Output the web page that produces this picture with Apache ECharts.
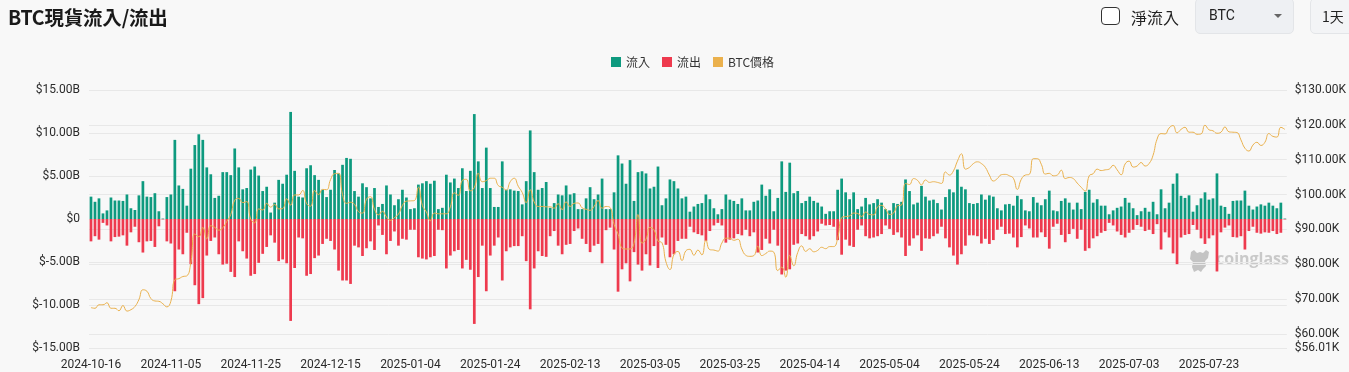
<!DOCTYPE html>
<html>
<head>
<meta charset="utf-8">
<script src="https://cdn.jsdelivr.net/npm/echarts@6/dist/echarts.min.js"></script>
<style>
  html, body { margin:0; padding:0; background:#f8f8f8; width:1349px; height:372px; overflow:hidden; font-family: Roboto, "Noto Sans CJK TC", sans-serif; }
  #chart { position:absolute; left:0; top:0; width:1349px; height:372px; }
  .title { position:absolute; left:8px; top:2px; font-size:19.5px; font-weight:bold; color:#1a1a1a; font-family: "Noto Sans CJK TC", sans-serif; letter-spacing:-0.2px; }
  .chk { position:absolute; left:1101px; top:7px; width:17px; height:16px; border:1.6px solid #333; border-radius:4px; background:#fff; }
  .chklbl { position:absolute; left:1131px; top:5px; font-size:16px; color:#222; font-family: "Noto Sans CJK TC", sans-serif; }
  .sel { position:absolute; left:1195px; top:-2px; width:97px; height:34px; background:#eef0f3; border:1px solid #e3e5e8; border-radius:5px; }
  .sel span { position:absolute; left:13px; top:8px; font-size:14px; color:#222; }
  .caret { position:absolute; left:78px; top:15px; width:0; height:0; border-left:4px solid transparent; border-right:4px solid transparent; border-top:4px solid #666; }
  .btn { position:absolute; left:1310px; top:-2px; width:60px; height:34px; background:#f3f4f6; border:1px solid #e3e5e8; border-radius:5px; }
  .btn span { position:absolute; left:11px; top:7px; font-size:14px; color:#222; font-family: "Noto Sans CJK TC", sans-serif; }
</style>
</head>
<body>
<div id="chart"></div>
<div class="title">BTC現貨流入/流出</div>
<div class="chk"></div>
<div class="chklbl">淨流入</div>
<div class="sel"><span>BTC</span><div class="caret"></div></div>
<div class="btn"><span>1天</span></div>
<script>
// ---- data (billions USD for flows, thousands USD for price) ----
const startDate = '2024-10-16';
const dayCount = 300;

const inflow = [
2.6,2.0,2.4,0.65,1.0,2.5,2.15,2.15,2.1,2.85,1.25,1.05,2.75,4.4,2.6,2.55,3.0,0.9,0.05,2.55,
2.85,9.2,3.9,3.5,1.55,5.85,8.6,9.85,9.2,6.0,5.2,2.45,2.7,5.45,5.45,5.1,8.2,6.0,3.45,3.6,
5.75,6.1,5.05,3.25,3.75,0.75,1.9,4.55,4.1,5.15,12.45,5.6,2.6,2.5,5.9,6.25,5.1,4.55,3.4,2.55,
3.4,5.7,5.3,6.3,7.1,7.0,3.25,2.6,4.15,3.7,2.4,3.6,1.4,1.75,3.9,2.85,1.6,2.3,3.4,2.5,
1.15,1.25,4.0,4.15,4.4,4.1,4.45,1.15,1.3,5.15,4.25,4.7,3.6,5.9,3.25,5.6,12.2,6.7,3.6,8.3,
3.6,1.4,1.4,6.7,3.4,3.45,3.3,3.25,1.7,4.4,10.3,5.45,3.4,3.6,4.3,1.3,1.85,2.85,2.75,3.9,
2.85,3.0,1.15,1.15,2.4,3.7,2.3,2.85,4.7,1.15,1.15,3.1,7.4,6.45,4.1,6.85,2.1,5.45,5.55,5.3,
3.55,3.75,6.1,1.6,2.4,4.6,4.4,3.55,2.4,2.6,0.85,1.45,1.75,1.85,2.85,2.3,1.25,0.55,1.15,2.85,
2.25,2.1,1.75,2.4,1.0,
1.0,2.0,2.15,4.0,2.7,3.45,0.9,2.45,6.7,3.15,6.55,3.0,3.25,1.85,2.1,2.6,2.1,1.9,1.45,0.6,
0.9,0.9,3.4,4.7,3.1,2.3,3.1,1.15,1.45,2.45,1.7,1.85,2.3,1.9,1.15,1.0,1.85,1.75,2.0,4.6,
3.25,1.7,1.9,3.85,2.6,2.15,2.25,1.85,1.1,2.55,3.45,3.1,5.75,3.75,3.45,1.85,1.75,1.85,2.85,2.25,
2.75,2.6,1.25,
1.0,1.7,1.75,1.55,2.7,2.3,1.0,0.9,2.55,1.9,1.6,2.3,3.3,1.0,0.9,2.1,2.4,1.9,1.1,1.9,
1.15,3.15,3.4,1.9,2.3,1.55,1.55,0.55,1.0,1.3,1.45,2.45,1.9,1.25,0.45,0.9,1.3,0.85,2.0,0.55,
3.45,1.25,1.9,4.1,5.3,2.7,2.45,2.75,0.85,1.6,2.4,3.1,2.25,2.4,5.3,1.55,1.4,0.6,2.1,2.15,
2.15,3.3,1.55,1.1,1.45,1.7,1.55,1.9,1.55,1.25,1.9,0.05
];

const outflow = [
-2.6,-2.0,-2.4,-0.45,-0.75,-2.6,-2.1,-2.05,-1.9,-3.1,-1.55,-0.9,-2.7,-3.9,-2.6,-2.55,-3.25,-0.85,-0.05,-2.6,
-2.85,-8.4,-3.55,-4.1,-1.6,-5.25,-7.7,-9.9,-9.2,-4.25,-2.55,-2.15,-4.1,-5.3,-5.2,-6.15,-6.75,-2.6,-3.75,-4.6,
-6.6,-6.4,-5.1,-4.05,-3.25,-1.9,-2.75,-4.9,-4.7,-5.15,-11.85,-5.7,-2.15,-2.25,-6.6,-6.4,-4.55,-4.25,-2.9,-2.3,
-2.55,-3.55,-6.0,-7.15,-7.15,-7.55,-3.1,-3.3,-4.3,-3.4,-2.6,-3.6,-0.75,-1.85,-4.1,-2.55,-1.45,-3.1,-2.3,-2.4,
-1.25,-1.25,-4.45,-4.6,-4.7,-4.45,-4.3,-1.25,-1.3,-5.75,-4.25,-3.75,-3.6,-5.75,-4.75,-5.9,-12.2,-6.75,-3.1,-8.4,
-4.25,-3.1,-2.15,-7.15,-3.75,-3.3,-3.15,-3.15,-2.0,-4.9,-10.5,-5.75,-3.75,-4.3,-4.4,-2.0,-1.4,-3.1,-4.1,-3.0,
-2.9,-1.4,-1.1,-2.3,-2.9,-3.85,-3.1,-2.9,-5.15,-1.3,-1.0,-3.55,-8.45,-5.85,-5.15,-7.25,-3.85,-5.3,-6.0,-4.1,
-5.4,-3.15,-5.7,-2.15,-3.0,-4.45,-4.1,-2.55,-2.3,-2.3,-0.9,-1.55,-1.75,-1.9,-2.55,-1.4,-0.75,-0.45,-0.75,-2.75,
-2.4,-2.25,-1.75,-1.9,-1.25,
-2.0,-1.55,-3.9,-3.6,-2.3,-2.85,-1.25,-3.1,-6.45,-6.0,-5.85,-3.0,-2.85,-1.75,-2.0,-2.4,-2.0,-1.45,-0.55,-0.75,
-0.7,-0.9,-2.45,-4.15,-2.4,-3.1,-3.25,-1.25,-0.75,-2.0,-2.25,-2.15,-2.0,-1.75,-0.75,-1.15,-1.85,-1.55,-2.15,-4.3,
-3.1,-2.25,-1.9,-3.7,-2.25,-2.3,-2.0,-1.7,-0.9,-2.25,-3.3,-4.25,-5.3,-4.1,-3.1,-1.9,-1.9,-2.0,-2.85,-2.3,
-2.9,-2.45,-1.25,
-0.9,-1.75,-1.7,-2.15,-3.3,-2.1,-0.75,-1.1,-2.15,-2.15,-1.55,-2.1,-3.45,-0.9,-0.55,-1.85,-2.7,-1.75,-1.15,-2.3,
-1.25,-3.7,-3.4,-2.25,-2.0,-1.6,-1.4,-0.45,-0.75,-1.45,-1.85,-2.15,-1.6,-1.25,-0.7,-0.9,-1.4,-1.25,-1.75,-0.6,
-3.55,-1.55,-2.15,-4.0,-5.25,-2.15,-1.85,-1.75,-0.7,-1.25,-2.25,-2.9,-2.25,-1.9,-6.1,-1.55,-1.0,-0.75,-2.1,-2.15,
-2.0,-3.55,-1.4,-0.9,-1.6,-1.7,-1.55,-1.6,-1.4,-1.75,-1.6,-0.05
];

const price = [
67.6,67.4,68.4,68.4,69.0,67.4,67.4,66.7,68.2,66.6,67.0,67.9,69.9,72.7,72.3,70.2,
69.5,69.4,68.7,67.8,69.4,75.6,75.9,76.5,76.7,80.5,88.7,87.9,90.6,87.3,91.1,90.6,89.8,90.5,92.3,94.3,98.4,98.9,97.7,98.0,93.0,91.9,95.9,95.6,97.5,96.4,
97.2,95.9,96.0,98.8,97.0,99.9,99.9,101.2,97.4,96.7,101.2,100.0,101.5,101.4,104.3,106.0,106.1,100.0,97.5,97.8,97.2,95.1,94.7,98.7,99.4,95.8,94.2,95.2,93.6,92.6,93.4,
94.4,96.9,98.1,98.2,98.3,102.1,96.9,95.0,92.5,94.7,94.5,94.5,94.5,96.5,100.5,99.8,104.1,104.4,101.1,102.0,106.1,103.7,104.0,104.7,104.7,102.6,102.1,101.3,103.7,104.7,102.4,
100.6,97.7,101.4,97.9,96.6,96.6,96.5,96.5,96.1,97.4,95.7,97.9,96.6,97.5,97.6,96.2,95.8,95.5,96.6,98.3,96.1,96.6,96.3,91.5,88.7,84.7,84.4,84.4,
86.0,94.3,86.1,87.2,90.6,89.9,86.7,86.2,80.7,78.5,82.9,83.7,81.1,83.9,84.3,82.6,84.1,82.7,86.9,84.2,84.1,83.8,86.1,87.5,87.5,86.9,87.2,84.4,82.6,82.3,82.5,
85.2,82.5,83.1,83.8,83.5,78.2,79.2,76.3,82.6,79.6,83.4,85.3,83.7,84.5,83.6,84.0,84.9,84.5,85.1,85.1,87.5,93.4,93.7,93.9,94.7,94.6,93.7,95.0,94.3,94.2,
96.5,96.9,95.9,94.3,94.7,96.8,97.0,103.2,102.9,104.6,104.1,102.8,104.2,103.5,103.7,103.5,103.2,106.5,105.6,106.8,109.6,111.7,107.3,107.8,108.9,109.4,108.9,107.8,105.6,103.9,104.6,
105.7,105.8,105.4,104.7,101.5,104.4,105.6,105.8,110.3,110.3,108.7,105.9,106.1,105.4,105.6,107.0,104.6,104.9,104.6,103.3,102.1,101.0,105.4,106.0,107.3,106.9,107.1,107.3,108.4,107.1,
105.7,108.8,109.6,107.9,108.2,109.2,108.2,108.9,111.3,115.9,117.5,117.4,119.1,119.8,117.7,118.7,119.3,117.9,117.9,117.3,117.4,119.9,118.6,118.3,117.6,117.9,119.4,118.0,117.9,117.8,115.7,
113.3,112.5,114.2,115.0,114.1,115.0,117.5,116.7,116.5,119.3,118.7
];

const flowTicks = { min: -15, max: 15, step: 5 };
const priceMin = 56.01;
const priceMax = 130;
const priceTickValues = [56.01, 60, 70, 80, 90, 100, 110, 120, 130];

// categories
function buildDates(start, n) {
  const out = [];
  const d = new Date(start + 'T00:00:00Z');
  for (let i = 0; i < n; i++) {
    out.push(d.toISOString().slice(0, 10));
    d.setUTCDate(d.getUTCDate() + 1);
  }
  return out;
}
const categories = buildDates(startDate, dayCount);

const chart = echarts.init(document.getElementById('chart'), null, { renderer: 'canvas' });
const labelColor = '#2b2b2b';
const gridColor = '#e8e8e8';
const font = 'Roboto, "Noto Sans CJK TC", sans-serif';

chart.setOption({
  backgroundColor: 'transparent',
  animation: false,
  textStyle: { fontFamily: font },
  legend: {
    top: 51, left: 606,
    itemWidth: 10, itemHeight: 10, itemGap: 12,
    icon: 'rect',
    textStyle: { fontSize: 12, color: '#333', fontFamily: '"Noto Sans CJK TC", Roboto, sans-serif' },
    data: ['流入', '流出', 'BTC價格']
  },
  grid: { left: 89, right: 60, top: 90, bottom: 24, containLabel: false },
  xAxis: {
    type: 'category',
    data: categories,
    boundaryGap: true,
    axisLine: { show: false },
    axisTick: { show: false },
    axisLabel: { interval: 19, color: labelColor, fontSize: 12, margin: 11, fontFamily: font }
  },
  yAxis: [
    {
      type: 'value', min: flowTicks.min, max: flowTicks.max, interval: flowTicks.step,
      axisLine: { show: false }, axisTick: { show: false },
      splitLine: { lineStyle: { color: gridColor, width: 1 } },
      axisLabel: {
        color: labelColor, fontSize: 12, margin: 9,
        formatter: v => v === 0 ? '$0' : '$' + v.toFixed(2) + 'B'
      }
    },
    {
      type: 'value', min: priceMin, max: priceMax,
      position: 'right',
      axisLine: { show: false },
      axisTick: { show: false, customValues: priceTickValues },
      splitLine: { show: true, lineStyle: { color: gridColor, width: 1 } },
      axisLabel: {
        color: labelColor, fontSize: 12, margin: 8,
        customValues: priceTickValues,
        hideOverlap: false,
        formatter: v => '$' + v.toFixed(2) + 'K'
      }
    }
  ],
  series: [
    {
      name: '流入', type: 'bar', stack: 'flow', data: inflow,
      barWidth: '68%', itemStyle: { color: '#0e9a7f' }
    },
    {
      name: '流出', type: 'bar', stack: 'flow', data: outflow,
      barWidth: '68%', itemStyle: { color: '#ee3a4e' }
    },
    {
      name: 'BTC價格', type: 'line', yAxisIndex: 1, data: price,
      smooth: true, showSymbol: false, symbol: 'none',
      lineStyle: { color: '#e9b04c', width: 1 },
      itemStyle: { color: '#ebb14d' },
      z: 5
    }
  ],
  graphic: [
    {
      type: 'group', left: 1190, top: 250, z: 10,
      children: [
        { type: 'polygon', shape: { points: [[2,2],[5,0],[8,3],[11,2],[14,3],[17,0],[20,2],[19,8],[16,11],[17,16],[14,19],[12,22],[9,20],[5,22],[3,17],[4,12],[1,9]] }, style: { fill: '#c4c4c4' } },
        { type: 'text', x: 27, y: 1, style: { text: 'coinglass', font: 'bold 16px "Open Sans", Roboto, sans-serif', fill: '#c9c9c9' } }
      ]
    }
  ]
});
</script>
</body>
</html>
